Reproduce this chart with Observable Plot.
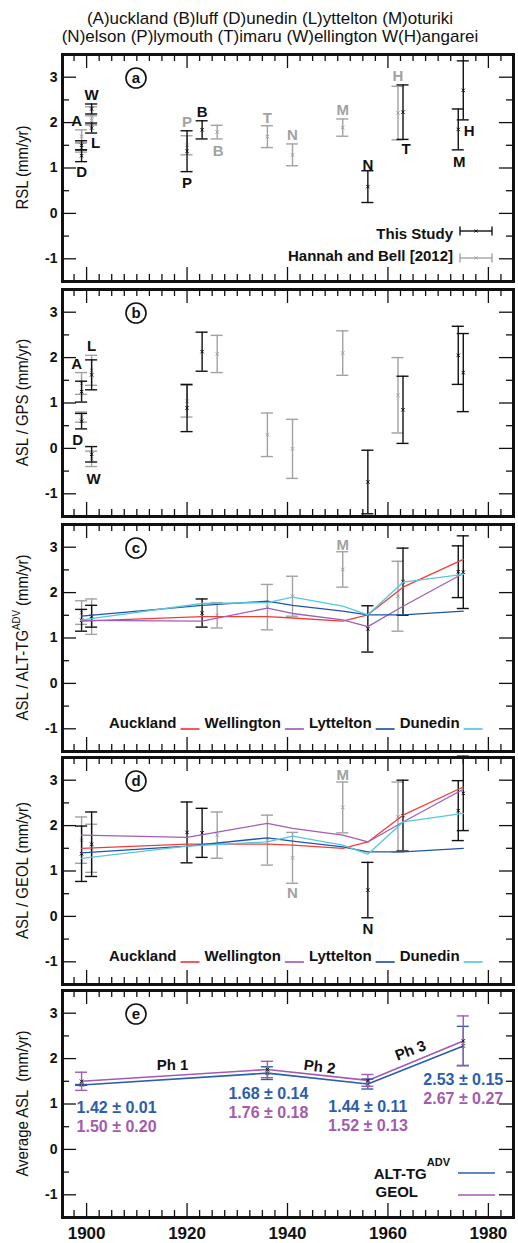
<!DOCTYPE html>
<html>
<head>
<meta charset="utf-8">
<script src="https://cdn.jsdelivr.net/npm/d3@7"></script>
<script src="https://cdn.jsdelivr.net/npm/@observablehq/plot@0.6"></script>
<style>
  html, body { margin: 0; padding: 0; background: #fff; }
  body { width: 518px; }
  #title { font-family: "Liberation Sans", Arial, Helvetica, sans-serif; font-size: 17px; line-height: 18px; color: #111;
           text-align: center; box-sizing: border-box; width: 518px; height: 51px; padding: 10px 0 0 22px; }
  #chart svg { display: block; }
</style>
</head>
<body>
<div id="title">(A)uckland (B)luff (D)unedin (L)yttelton (M)oturiki<br>(N)elson (P)lymouth (T)imaru (W)ellington W(H)angarei</div>
<div id="chart"></div>
<script>
// ---------------- data ----------------
const xTicks = [1900, 1920, 1940, 1960, 1980];
const yTicks = [-1, 0, 1, 2, 3];

// (a) RSL
const aStudyStation = ["A", "D", "W", "L", "P", "B", "N", "T", "M", "H"];
const aStudyYear    = [1899, 1899, 1901, 1901, 1920, 1923, 1956, 1963, 1974, 1975];
const aStudyRate    = [1.50, 1.27, 2.30, 1.88, 1.37, 1.84, 0.59, 2.23, 1.85, 2.71];
const aStudyErr     = [0.10, 0.13, 0.11, 0.11, 0.45, 0.20, 0.35, 0.60, 0.45, 0.65];
const aHBStation = ["A", "D", "W", "L", "P", "B", "T", "N", "M", "H"];
const aHBYear    = [1899, 1899, 1901, 1901, 1920, 1926, 1936, 1941, 1951, 1962];
const aHBRate    = [1.70, 1.45, 2.15, 2.05, 1.50, 1.79, 1.69, 1.29, 1.89, 2.21];
const aHBErr     = [0.14, 0.10, 0.20, 0.10, 0.21, 0.15, 0.24, 0.24, 0.19, 0.59];

// (b) ASL / GPS
const bStudyStation = ["A", "D", "W", "L", "P", "B", "N", "T", "M", "H"];
const bStudyYear    = [1899, 1899, 1901, 1901, 1920, 1923, 1956, 1963, 1974, 1975];
const bStudyRate    = [1.25, 0.60, -0.13, 1.62, 0.89, 2.13, -0.74, 0.85, 2.05, 1.67];
const bStudyErr     = [0.23, 0.17, 0.17, 0.33, 0.52, 0.43, 0.70, 0.74, 0.64, 0.86];
const bHBStation = ["A", "D", "W", "L", "P", "B", "T", "N", "M", "H"];
const bHBYear    = [1899, 1899, 1901, 1901, 1920, 1926, 1936, 1941, 1951, 1962];
const bHBRate    = [1.43, 0.69, -0.23, 1.72, 1.04, 2.08, 0.30, -0.01, 2.10, 1.17];
const bHBErr     = [0.24, 0.11, 0.17, 0.33, 0.35, 0.41, 0.48, 0.65, 0.49, 0.83];

// (c) ASL / ALT-TG ADV
const cStudyStation = ["A", "W", "B", "N", "T", "M", "H"];
const cStudyYear = [1899, 1901, 1923, 1956, 1963, 1974, 1975];
const cStudyRate = [1.39, 1.48, 1.55, 1.20, 2.24, 2.46, 2.45];
const cStudyErr  = [0.24, 0.24, 0.31, 0.51, 0.74, 0.57, 0.80];
const cOtherStation = ["D", "L", "B", "T", "N", "M", "H"];
const cOtherYear = [1899, 1901, 1926, 1936, 1941, 1951, 1962];
const cOtherRate = [1.56, 1.47, 1.50, 1.68, 1.92, 2.51, 1.92];
const cOtherErr  = [0.26, 0.39, 0.28, 0.50, 0.44, 0.39, 0.77];
const cLineYear   = [1899, 1923, 1936, 1941, 1951, 1956, 1963, 1975];
const cAuckland   = [1.37, 1.47, 1.47, 1.44, 1.37, 1.51, 2.12, 2.73];
const cWellington = [1.39, 1.37, 1.66, 1.54, 1.40, 1.25, 1.70, 2.42];
const cLyttelton  = [1.48, 1.72, 1.81, 1.72, 1.59, 1.51, 1.51, 1.59];
const cDunedin    = [1.40, 1.76, 1.78, 1.90, 1.70, 1.51, 2.23, 2.40];

// (d) ASL / GEOL
const dStudyStation = ["A", "W", "P", "B", "N", "T", "M", "H"];
const dStudyYear = [1899, 1901, 1920, 1923, 1956, 1963, 1974, 1975];
const dStudyRate = [1.38, 1.59, 1.85, 1.84, 0.58, 2.22, 2.33, 2.71];
const dStudyErr  = [0.61, 0.71, 0.67, 0.54, 0.61, 0.78, 0.66, 0.82];
const dOtherStation = ["D", "L", "B", "T", "N", "M", "H"];
const dOtherYear = [1899, 1901, 1926, 1936, 1941, 1951, 1962];
const dOtherRate = [1.68, 1.50, 1.79, 1.68, 1.29, 2.40, 2.19];
const dOtherErr  = [0.51, 0.53, 0.51, 0.55, 0.56, 0.56, 0.77];
const dLineYear   = [1899, 1920, 1936, 1941, 1951, 1956, 1963, 1975];
const dAuckland   = [1.50, 1.59, 1.59, 1.57, 1.50, 1.64, 2.23, 2.85];
const dWellington = [1.79, 1.74, 2.05, 1.94, 1.79, 1.64, 2.08, 2.80];
const dLyttelton  = [1.40, 1.55, 1.73, 1.66, 1.53, 1.42, 1.42, 1.50];
const dDunedin    = [1.28, 1.55, 1.64, 1.77, 1.57, 1.37, 2.08, 2.27];

// (e) Average ASL
const eYear     = [1899, 1936, 1956, 1975];
const eAltRate  = [1.42, 1.68, 1.44, 2.28];
const eAltErr   = [0.01, 0.14, 0.11, 0.43];
const eGeolRate = [1.50, 1.76, 1.52, 2.39];
const eGeolErr  = [0.20, 0.18, 0.13, 0.55];
const eAltText  = ["1.42 ± 0.01", "1.68 ± 0.14", "1.44 ± 0.11", "2.53 ± 0.15"];
const eGeolText = ["1.50 ± 0.20", "1.76 ± 0.18", "1.52 ± 0.13", "2.67 ± 0.27"];
const phaseNames = ["Ph 1", "Ph 2", "Ph 3"];

const legendStations = ["Auckland", "Wellington", "Lyttelton", "Dunedin"];

// ---------------- styles ----------------
const FONT = '"Liberation Sans", Arial, Helvetica, sans-serif';
const INK = "#111";
const GRAY = "#a2a2a2";
const RED = "#ef3e3a", PURPLE = "#a05fb4", BLUE = "#2254a6", CYAN = "#55c8de";
const E_BLUE = "#2d5dab", E_PURPLE = "#a35bae";
const STATION_COLORS = [RED, PURPLE, BLUE, CYAN];
const CAP = 1.2; // half cap width in years (~6px)

// label placement: station -> [side, dx, dy] (center offset in px from bar end)
const aStudyPlace = {W: ["hi", 0, -9], A: ["hi", -5, -20], D: ["lo", 0, 11], L: ["lo", 4, 10], P: ["lo", 0, 12],
                     B: ["hi", 0, -9], N: ["hi", 0, -6], T: ["lo", 3, 10], M: ["lo", 1, 12], H: ["lo", 6, 11]};
const aHBPlace = {P: ["hi", 0, -14], B: ["lo", 1, 12], T: ["hi", 0, -8], N: ["hi", 0, -9], M: ["hi", 0, -9], H: ["hi", 0, -10]};
const bStudyPlace = {L: ["hi", 0, -14], A: ["hi", -5, -17], D: ["lo", -4, 11], W: ["lo", 2, 17]};
const cOtherPlace = {M: ["hi", 0, -7]};
const dOtherPlace = {N: ["lo", 0, 10], M: ["hi", 0, -7]};
const dStudyPlace = {N: ["lo", 0, 11]};
const eTextDx = [35, 1, 0, 0];
const eTextDy = [23, 21, 23, 34];
const eGeolGap = 19;
const phaseDx = [-2, 2, -5];
const phaseDy = [-10, -8, -10];
const phaseRotate = [0, 7, -21];

// ---------------- helpers ----------------
function rows(years, rates, errs, stations) {
  return years.map((year, i) => ({year, rate: rates[i], err: errs[i], station: stations ? stations[i] : ""}));
}
function lineRows(years, values) {
  return years.map((year, i) => ({year, value: values[i]}));
}
function errorBars(data, color, w = 1.4, center = color) {
  return [
    Plot.ruleX(data, {x: "year", y1: d => d.rate - d.err, y2: d => d.rate + d.err, stroke: color, strokeWidth: w}),
    Plot.ruleY(data, {y: d => d.rate - d.err, x1: d => d.year - CAP, x2: d => d.year + CAP, stroke: color, strokeWidth: w}),
    Plot.ruleY(data, {y: d => d.rate + d.err, x1: d => d.year - CAP, x2: d => d.year + CAP, stroke: color, strokeWidth: w}),
    Plot.dot(data, {x: "year", y: "rate", symbol: "times", r: 1.7, stroke: center, strokeWidth: 1})
  ];
}
function stationLabels(data, place, color) {
  return Object.entries(place).map(([st, [side, dx, dy]]) => {
    const d = data.filter(r => r.station === st);
    return Plot.text(d, {x: "year", y: r => side === "hi" ? r.rate + r.err : r.rate - r.err, text: "station",
      dx, dy, lineAnchor: "middle", fill: color, fontWeight: "bold", fontSize: 15});
  });
}
function overlay(draw) {
  return function (...args) {
    const dim = args.find(a => a && typeof a === "object" && "marginLeft" in a && "height" in a);
    const g = d3.create("svg:g").attr("font-family", FONT).attr("text-anchor", "start");
    draw(g, dim);
    return g.node();
  };
}
function panelLetter(letter) {
  return overlay((g, dim) => {
    const cx = dim.marginLeft + 74, cy = dim.marginTop + 24;
    g.append("circle").attr("cx", cx).attr("cy", cy).attr("r", 10).attr("fill", "white").attr("stroke", INK).attr("stroke-width", 1.6);
    g.append("text").attr("x", cx).attr("y", cy).attr("dy", "0.36em").attr("text-anchor", "middle")
      .attr("font-weight", "bold").attr("font-size", 15).attr("fill", INK).text(letter);
  });
}
function yLabel(parts) {
  return overlay((g, dim) => {
    const cy = (dim.marginTop + dim.height - dim.marginBottom) / 2;
    const t = g.append("text").attr("transform", `translate(${dim.marginLeft - 34},${cy}) rotate(-90) scale(0.88,1)`)
      .attr("text-anchor", "middle").attr("font-size", 17).attr("fill", INK);
    parts.forEach(([s, sup], i) => {
      const ts = t.append("tspan").text(s);
      if (sup) ts.attr("font-size", 11).attr("dy", -8);
      else if (i > 0 && parts[i - 1][1]) ts.attr("dy", 8);
    });
  });
}
function stationLegend() {
  return overlay((g, dim) => {
    const ctx = document.createElement("canvas").getContext("2d");
    ctx.font = `bold 15px ${FONT}`;
    let x = dim.marginLeft + 47;
    const base = dim.height - dim.marginBottom - 23;
    legendStations.forEach((n, i) => {
      g.append("text").attr("x", x).attr("y", base).attr("text-anchor", "start").attr("font-weight", "bold")
        .attr("font-size", 15).attr("fill", INK).text(n);
      x += ctx.measureText(n).width + 4;
      g.append("line").attr("x1", x).attr("x2", x + 19).attr("y1", base + 1).attr("y2", base + 1)
        .attr("stroke", STATION_COLORS[i]).attr("stroke-width", 1.7);
      x += 19 + 5;
    });
  });
}
function sourceLegend() {
  return overlay((g, dim) => {
    const right = dim.width - dim.marginRight, bottom = dim.height - dim.marginBottom;
    [["This Study", INK, 42, 50], ["Hannah and Bell [2012]", GRAY, 20, 23]].forEach(([label, color, tb, lb]) => {
      g.append("text").attr("x", right - 60).attr("y", bottom - tb).attr("text-anchor", "end")
        .attr("font-weight", "bold").attr("font-size", 15).attr("fill", INK).text(label);
      const y = bottom - lb, x1 = right - 53, x2 = right - 21;
      g.append("line").attr("x1", x1).attr("x2", x2).attr("y1", y).attr("y2", y).attr("stroke", color).attr("stroke-width", 1.4);
      [x1, x2].forEach(x => g.append("line").attr("x1", x).attr("x2", x).attr("y1", y - 4.5).attr("y2", y + 4.5).attr("stroke", color).attr("stroke-width", 1.4));
      g.append("path").attr("d", `M${(x1 + x2) / 2 - 1.5},${y - 1.5}l3,3m0,-3l-3,3`).attr("stroke", color).attr("stroke-width", 1);
    });
  });
}
function methodLegend() {
  return overlay((g, dim) => {
    const right = dim.width - dim.marginRight, bottom = dim.height - dim.marginBottom;
    const t = g.append("text").attr("x", right - 63).attr("y", bottom - 38).attr("text-anchor", "end")
      .attr("font-weight", "bold").attr("font-size", 15).attr("fill", INK);
    t.append("tspan").text("ALT-TG");
    t.append("tspan").attr("font-size", 11).attr("dy", -13).text("ADV");
    g.append("text").attr("x", right - 95).attr("y", bottom - 20).attr("text-anchor", "end")
      .attr("font-weight", "bold").attr("font-size", 15).attr("fill", INK).text("GEOL");
    [[E_BLUE, 44], [E_PURPLE, 22]].forEach(([c, o]) => {
      g.append("line").attr("x1", right - 55).attr("x2", right - 18).attr("y1", bottom - o).attr("y2", bottom - o)
        .attr("stroke", c).attr("stroke-width", 1.7);
    });
  });
}

function panel(height, marginBottom, marks, withX = false) {
  const marginTop = 3;
  const innerW = 518 - 62 - 5, innerH = height - marginTop - marginBottom;
  const xMinor = d3.range(1897.5, 1985, 2.5).filter(v => !xTicks.includes(v));
  const yMinor = [-0.5, 0.5, 1.5, 2.5];
  const tk = {stroke: INK, strokeWidth: 1.3};
  const extra = withX ? [Plot.text(xTicks, {x: d => d, text: d => String(d), frameAnchor: "bottom", lineAnchor: "middle",
    dy: 16, fontSize: 17, fontWeight: "bold", fill: INK})] : [];
  return Plot.plot({
    width: 518, height, marginLeft: 62, marginRight: 5, marginTop, marginBottom,
    x: {domain: [1895.2, 1985], axis: null},
    y: {domain: [-1.5, 3.5], axis: null},
    style: {fontFamily: FONT, fontSize: "15px", overflow: "visible", background: "white", color: INK},
    marks: [
      Plot.tickX(xMinor, {x: d => d, insetBottom: innerH - 7, ...tk}),
      Plot.tickX(xTicks, {x: d => d, insetBottom: innerH - 14, ...tk}),
      Plot.tickX(xMinor, {x: d => d, insetTop: innerH - 7, ...tk}),
      Plot.tickX(xTicks, {x: d => d, insetTop: innerH - 14, ...tk}),
      Plot.tickY(yMinor, {y: d => d, insetRight: innerW - 7, ...tk}),
      Plot.tickY(yTicks, {y: d => d, insetRight: innerW - 14, ...tk}),
      Plot.tickY(yMinor, {y: d => d, insetLeft: innerW - 7, ...tk}),
      Plot.tickY(yTicks, {y: d => d, insetLeft: innerW - 14, ...tk}),
      Plot.text(yTicks, {y: d => d, text: d => String(d), frameAnchor: "left", textAnchor: "end", dx: -5,
        fontSize: 14, fontWeight: "bold", fill: INK}),
      ...extra,
      ...marks,
      Plot.frame({stroke: INK, strokeWidth: 3})
    ]
  });
}

function stationLines(years, series) {
  return series.map((vals, i) => Plot.line(lineRows(years, vals), {x: "year", y: "value", stroke: STATION_COLORS[i], strokeWidth: 1.3}));
}

// ---------------- panels ----------------
const chart = document.getElementById("chart");

// (a)
const aStudy = rows(aStudyYear, aStudyRate, aStudyErr, aStudyStation);
const aHB = rows(aHBYear, aHBRate, aHBErr, aHBStation);
chart.append(panel(235, 5, [
  ...errorBars(aHB, GRAY), ...errorBars(aStudy, INK),
  ...stationLabels(aStudy, aStudyPlace, INK), ...stationLabels(aHB, aHBPlace, GRAY),
  sourceLegend(), panelLetter("a"), yLabel([["RSL (mm/yr)"]])
]));

// (b)
const bStudy = rows(bStudyYear, bStudyRate, bStudyErr, bStudyStation);
const bHB = rows(bHBYear, bHBRate, bHBErr, bHBStation);
chart.append(panel(235, 5, [
  ...errorBars(bHB, GRAY), ...errorBars(bStudy, INK),
  ...stationLabels(bStudy, bStudyPlace, INK),
  panelLetter("b"), yLabel([["ASL / GPS (mm/yr)"]])
]));

// (c)
const cStudy = rows(cStudyYear, cStudyRate, cStudyErr, cStudyStation);
const cOther = rows(cOtherYear, cOtherRate, cOtherErr, cOtherStation);
chart.append(panel(233, 3, [
  ...errorBars(cOther, GRAY), ...errorBars(cStudy, INK),
  ...stationLines(cLineYear, [cAuckland, cWellington, cLyttelton, cDunedin]),
  ...stationLabels(cOther, cOtherPlace, GRAY),
  stationLegend(), panelLetter("c"), yLabel([["ASL / ALT-TG"], ["ADV", true], [" (mm/yr)"]])
]));

// (d)
const dStudy = rows(dStudyYear, dStudyRate, dStudyErr, dStudyStation);
const dOther = rows(dOtherYear, dOtherRate, dOtherErr, dOtherStation);
chart.append(panel(233, 3, [
  ...errorBars(dOther, GRAY), ...errorBars(dStudy, INK),
  ...stationLines(dLineYear, [dAuckland, dWellington, dLyttelton, dDunedin]),
  ...stationLabels(dOther, dOtherPlace, GRAY), ...stationLabels(dStudy, dStudyPlace, INK),
  stationLegend(), panelLetter("d"), yLabel([["ASL / GEOL (mm/yr)"]])
]));

// (e)
const eAlt = rows(eYear, eAltRate, eAltErr);
const eGeol = rows(eYear, eGeolRate, eGeolErr);
const eTexts = [];
eYear.forEach((yr, i) => {
  eTexts.push(Plot.text([i], {x: j => eYear[j], y: j => eAltRate[j], text: j => eAltText[j], dx: eTextDx[i], dy: eTextDy[i],
    fill: E_BLUE, fontWeight: "bold", fontSize: 16, lineAnchor: "middle"}));
  eTexts.push(Plot.text([i], {x: j => eYear[j], y: j => eAltRate[j], text: j => eGeolText[j], dx: eTextDx[i], dy: eTextDy[i] + eGeolGap,
    fill: E_PURPLE, fontWeight: "bold", fontSize: 16, lineAnchor: "middle"}));
});
phaseNames.forEach((p, i) => {
  eTexts.push(Plot.text([i], {x: j => (eYear[j] + eYear[j + 1]) / 2, y: j => (eGeolRate[j] + eGeolRate[j + 1]) / 2,
    text: j => phaseNames[j], dx: phaseDx[i], dy: phaseDy[i], rotate: phaseRotate[i], fill: INK, fontWeight: "bold", fontSize: 15, lineAnchor: "middle"}));
});
chart.append(panel(256, 26, [
  Plot.line(eAlt, {x: "year", y: "rate", stroke: E_BLUE, strokeWidth: 1.6}),
  Plot.line(eGeol, {x: "year", y: "rate", stroke: E_PURPLE, strokeWidth: 1.6}),
  ...errorBars(eAlt, E_BLUE, 1.4, INK), ...errorBars(eGeol, E_PURPLE, 1.4, INK),
  ...eTexts,
  methodLegend(), panelLetter("e"), yLabel([["Average ASL  (mm/yr)"]])
], true));
</script>
</body>
</html>
